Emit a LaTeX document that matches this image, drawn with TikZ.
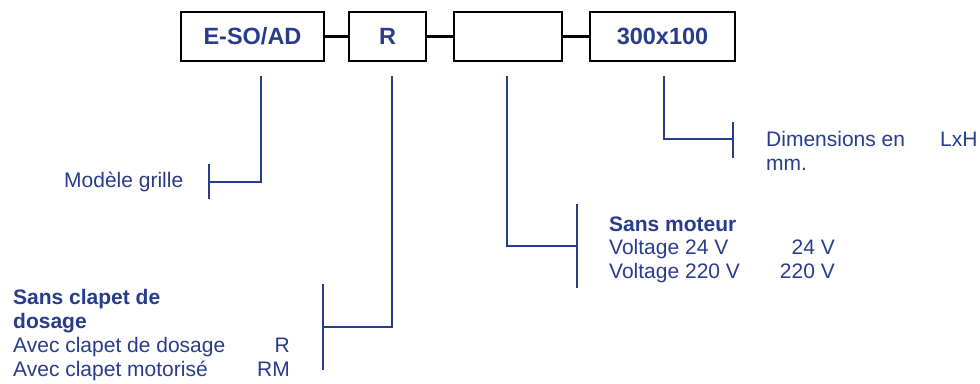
\documentclass[tikz,border=0pt]{standalone}
\usepackage{fontspec}
\setmainfont{Liberation Sans}
\definecolor{bleu}{RGB}{40,60,140}
\begin{document}
\begin{tikzpicture}[x=1pt, y=-1pt,
    code/.style={draw=black, line width=1.5pt, minimum height=49pt, inner sep=0pt,
        text=bleu, font=\fontsize{23.5}{26}\selectfont\bfseries},
    link/.style={line width=3pt, black},
    lead/.style={line width=2pt, bleu},
    txt/.style={anchor=base west, inner sep=0pt, text=bleu, font=\fontsize{21}{24}\selectfont},
    val/.style={anchor=base east, inner sep=0pt, text=bleu, font=\fontsize{21}{24}\selectfont}]
    \useasboundingbox (0,0) rectangle (980,383);
    % code boxes
    \node[code, minimum width=143pt] (modele) at (252.5,36.5) {E-SO/AD};
    \node[code, minimum width=77pt] (clapet) at (387.5,36.5) {R};
    \node[code, minimum width=108pt] (moteur) at (508,36.5) {};
    \node[code, minimum width=145pt] (dim) at (662.5,36.5) {300x100};
    \draw[link] (modele) -- (clapet);
    \draw[link] (clapet) -- (moteur);
    \draw[link] (moteur) -- (dim);
    % leads
    \coordinate (t1) at (261,76);
    \coordinate (t2) at (392,76);
    \coordinate (t3) at (507,76);
    \coordinate (t4) at (664,76);
    \coordinate (k1) at (209,182);
    \coordinate (k2) at (323,327);
    \coordinate (k3) at (577,246);
    \coordinate (k4) at (733,139);
    \draw[lead] (t1) |- (k1);
    \draw[lead] (t2) |- (k2);
    \draw[lead] (t3) |- (k3);
    \draw[lead] (t4) |- (k4);
    \draw[lead] (209,164) -- (209,199);
    \draw[lead] (323,284) -- (323,370);
    \draw[lead] (577,204) -- (577,288);
    \draw[lead] (733,122) -- (733,158);
    % texts
    \node[txt] (grille) at (64,187) {Modèle grille};
    \node[txt] (sans) at (13,304) {\bfseries Sans clapet de};
    \node[txt] (sans2) at (13,328) {\bfseries dosage};
    \node[txt] (avec) at (13,352) {Avec clapet de dosage};
    \node[txt] (motor) at (13,376) {Avec clapet motorisé};
    \node[val] (r) at (290,352) {R};
    \node[val] (rm) at (290,376) {RM};
    \node[txt] (smot) at (609,231) {\bfseries Sans moteur};
    \node[txt] (v24) at (609,254) {Voltage 24 V};
    \node[txt] (v220) at (609,278) {Voltage 220 V};
    \node[val] (c24) at (835,254) {24 V};
    \node[val] (c220) at (835,278) {220 V};
    \node[txt] (dims) at (766,146) {Dimensions en};
    \node[txt] (lxh) at (940,146) {LxH};
    \node[txt] (mm) at (766,170) {mm.};
\end{tikzpicture}
\end{document}
